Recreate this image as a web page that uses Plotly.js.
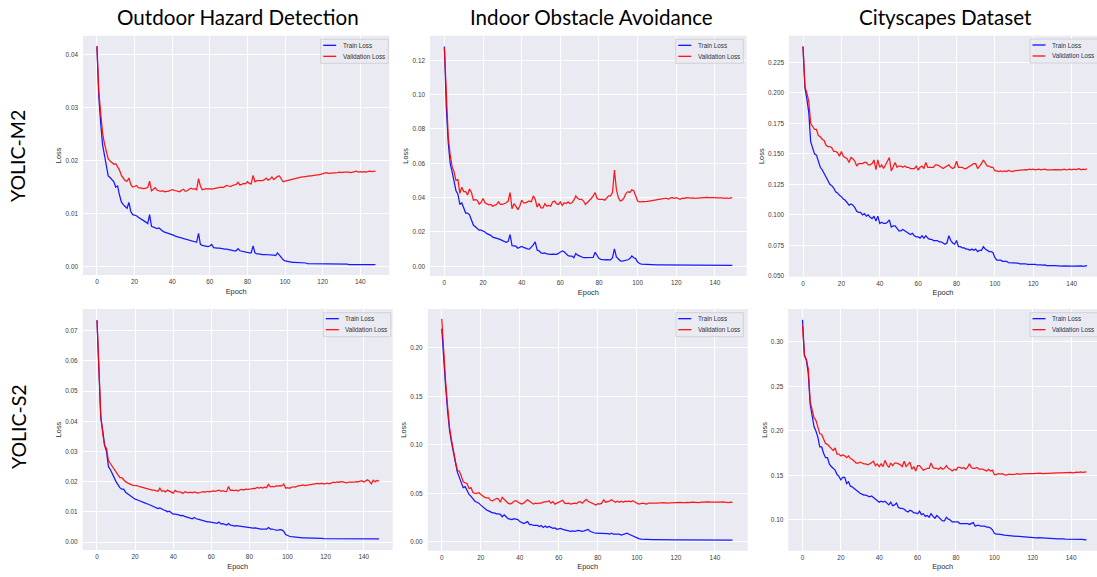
<!DOCTYPE html>
<html>
<head>
<meta charset="utf-8">
<script src="https://cdn.plot.ly/plotly-3.0.1.min.js"></script>
<style>html,body{margin:0;padding:0;background:#fff;}#chart{width:1097px;height:577px;}</style>
</head>
<body>
<div id="chart"></div>
<script>
// ---------------- DATA ----------------
const columnTitles = ["Outdoor Hazard Detection", "Indoor Obstacle Avoidance", "Cityscapes Dataset"];
const rowTitles = ["YOLIC-M2", "YOLIC-S2"];
const seriesNames = ["Train Loss", "Validation Loss"];
const xTicks = [0, 20, 40, 60, 80, 100, 120, 140];

// Outdoor Hazard Detection, YOLIC-M2 (epochs 0..148)
const outdoorM2Train = [
0.0415,0.0320,0.0270,0.0230,0.0210,0.0190,0.0171,0.0168,0.0163,0.0160,
0.0150,0.0152,0.0135,0.0122,0.0117,0.0113,0.0110,0.0121,0.0104,0.0098,
0.0097,0.0096,0.0093,0.0091,0.0089,0.0087,0.0084,0.0081,0.0098,0.0076,
0.0075,0.0074,0.0072,0.0073,0.0069,0.0067,0.0065,0.0064,0.0062,0.0061,
0.0061,0.0059,0.0057,0.0056,0.0055,0.0054,0.0052,0.0051,0.0050,0.0049,
0.0049,0.0048,0.0047,0.0046,0.0063,0.0042,0.0040,0.0039,0.0039,0.0038,
0.0039,0.0042,0.0036,0.0035,0.0035,0.0035,0.0034,0.0034,0.0033,0.0033,
0.0032,0.0032,0.0031,0.0030,0.0030,0.0034,0.0030,0.0029,0.0028,0.0027,
0.0027,0.0026,0.0026,0.0039,0.0026,0.0024,0.0024,0.0023,0.0023,0.0023,
0.0023,0.0023,0.0022,0.0023,0.0022,0.0021,0.0026,0.0022,0.0017,0.0013,
0.0011,0.0010,0.0009,0.0009,0.0008,0.0008,0.0008,0.0007,0.0007,0.0007,
0.0007,0.0007,0.0006,0.0006,0.0006,0.0006,0.0006,0.0006,0.0006,0.0005,
0.0005,0.0005,0.0005,0.0005,0.0005,0.0005,0.0005,0.0005,0.0005,0.0005,
0.0005,0.0005,0.0005,0.0005,0.0004,0.0004,0.0004,0.0004,0.0004,0.0004,
0.0004,0.0004,0.0004,0.0004,0.0004,0.0004,0.0004,0.0004,0.0004];
const outdoorM2Val = [
0.0415,0.0330,0.0290,0.0252,0.0232,0.0215,0.0203,0.0199,0.0195,0.0193,
0.0194,0.0188,0.0182,0.0172,0.0166,0.0162,0.0161,0.0167,0.0155,0.0150,
0.0151,0.0153,0.0149,0.0148,0.0148,0.0147,0.0148,0.0149,0.0161,0.0143,
0.0146,0.0149,0.0144,0.0143,0.0142,0.0143,0.0141,0.0142,0.0142,0.0144,
0.0145,0.0144,0.0143,0.0142,0.0141,0.0144,0.0146,0.0142,0.0143,0.0146,
0.0148,0.0146,0.0147,0.0145,0.0166,0.0152,0.0145,0.0146,0.0147,0.0146,
0.0147,0.0146,0.0147,0.0148,0.0148,0.0149,0.0150,0.0149,0.0151,0.0153,
0.0152,0.0151,0.0153,0.0154,0.0155,0.0159,0.0154,0.0155,0.0157,0.0156,
0.0160,0.0157,0.0156,0.0172,0.0160,0.0162,0.0162,0.0163,0.0162,0.0164,
0.0167,0.0163,0.0165,0.0169,0.0164,0.0167,0.0170,0.0171,0.0166,0.0160,
0.0161,0.0162,0.0163,0.0164,0.0164,0.0166,0.0167,0.0167,0.0168,0.0169,
0.0169,0.0170,0.0170,0.0171,0.0171,0.0172,0.0172,0.0173,0.0173,0.0174,
0.0175,0.0176,0.0177,0.0176,0.0176,0.0177,0.0176,0.0177,0.0177,0.0178,
0.0177,0.0178,0.0178,0.0179,0.0178,0.0177,0.0178,0.0179,0.0180,0.0178,
0.0179,0.0178,0.0179,0.0178,0.0179,0.0180,0.0179,0.0180,0.0180];

// Indoor Obstacle Avoidance, YOLIC-M2 (epochs 0..149)
const indoorM2Train = [
0.128,0.092,0.072,0.060,0.055,0.050,0.044,0.042,0.036,0.037,
0.034,0.031,0.031,0.030,0.027,0.024,0.023,0.022,0.021,0.021,
0.0205,0.020,0.019,0.0185,0.018,0.017,0.0168,0.0165,0.016,0.0155,
0.015,0.0145,0.014,0.0145,0.0185,0.012,0.0118,0.0117,0.0105,0.0108,
0.0115,0.011,0.0105,0.0102,0.010,0.011,0.0125,0.0142,0.0095,0.009,
0.0078,0.0075,0.0078,0.0072,0.0070,0.0070,0.0071,0.0069,0.0070,0.0075,
0.0085,0.009,0.0085,0.007,0.0062,0.006,0.006,0.005,0.0075,0.0065,
0.006,0.0052,0.005,0.005,0.0051,0.005,0.005,0.0052,0.0082,0.006,
0.0045,0.0040,0.0038,0.0037,0.0039,0.0038,0.0037,0.005,0.0102,0.0055,
0.004,0.0032,0.003,0.0032,0.0035,0.0038,0.0045,0.006,0.005,0.0045,
0.0025,0.0016,0.0013,0.0012,0.0011,0.0011,0.0010,0.0010,0.0010,0.0009,
0.0009,0.0009,0.0009,0.0008,0.0008,0.0008,0.0008,0.0008,0.0008,0.0007,
0.0007,0.0007,0.0007,0.0007,0.0007,0.0006,0.0006,0.0006,0.0006,0.0006,
0.0006,0.0006,0.0006,0.0006,0.0006,0.0006,0.0005,0.0005,0.0005,0.0005,
0.0005,0.0005,0.0005,0.0005,0.0005,0.0005,0.0005,0.0005,0.0005,0.0005];
const indoorM2Val = [
0.127,0.095,0.075,0.065,0.058,0.055,0.050,0.0505,0.0425,0.046,
0.0435,0.0435,0.0415,0.045,0.043,0.0385,0.0388,0.0385,0.0362,0.0372,
0.0395,0.037,0.0365,0.0358,0.036,0.035,0.0355,0.036,0.0375,0.036,
0.036,0.0365,0.037,0.038,0.043,0.0335,0.0365,0.035,0.033,0.035,
0.0385,0.037,0.037,0.0375,0.038,0.0375,0.041,0.039,0.0345,0.0365,
0.034,0.034,0.0365,0.035,0.0355,0.035,0.0375,0.038,0.0365,0.036,
0.0375,0.0355,0.037,0.0365,0.0375,0.0365,0.037,0.0385,0.041,0.0395,
0.039,0.039,0.038,0.036,0.037,0.038,0.0395,0.041,0.043,0.0395,
0.039,0.039,0.039,0.0385,0.040,0.041,0.041,0.043,0.056,0.045,
0.040,0.038,0.0385,0.040,0.0425,0.0435,0.043,0.0445,0.044,0.041,
0.038,0.0375,0.0375,0.0378,0.0376,0.0378,0.038,0.0382,0.0385,0.0385,
0.039,0.0388,0.039,0.0393,0.0395,0.0395,0.0392,0.0398,0.040,0.0396,
0.040,0.0395,0.039,0.0397,0.0395,0.040,0.0398,0.0395,0.0397,0.0398,
0.0395,0.0397,0.0398,0.040,0.0402,0.0405,0.0402,0.040,0.0401,0.0400,
0.0400,0.0398,0.0399,0.0397,0.0398,0.0396,0.0398,0.0395,0.0398,0.0400];

// Cityscapes Dataset, YOLIC-M2 (epochs 0..148)
const cityM2Train = [
0.238,0.204,0.195,0.184,0.160,0.155,0.150,0.149,0.143,0.139,
0.137,0.134,0.130,0.127,0.125,0.124,0.122,0.119,0.118,0.116,
0.115,0.113,0.112,0.110,0.108,0.109,0.108,0.106,0.103,0.102,
0.102,0.100,0.101,0.099,0.100,0.098,0.097,0.099,0.095,0.099,
0.093,0.094,0.093,0.093,0.094,0.096,0.090,0.091,0.091,0.089,
0.087,0.087,0.088,0.087,0.086,0.085,0.084,0.085,0.083,0.082,
0.082,0.081,0.083,0.081,0.083,0.081,0.080,0.080,0.079,0.079,
0.079,0.078,0.078,0.077,0.076,0.077,0.083,0.079,0.077,0.076,
0.079,0.074,0.074,0.073,0.073,0.072,0.072,0.071,0.072,0.071,
0.072,0.070,0.071,0.071,0.074,0.072,0.071,0.070,0.070,0.069,
0.065,0.063,0.063,0.063,0.062,0.062,0.062,0.061,0.061,0.061,
0.0605,0.061,0.0605,0.060,0.060,0.0605,0.060,0.0595,0.0595,0.0598,
0.0595,0.0595,0.059,0.0592,0.059,0.0588,0.059,0.0585,0.0587,0.0588,
0.0585,0.0585,0.0583,0.0585,0.0582,0.058,0.0582,0.058,0.058,0.0582,
0.058,0.058,0.0582,0.0578,0.058,0.0582,0.0578,0.058,0.0585];
const cityM2Val = [
0.238,0.205,0.200,0.193,0.175,0.172,0.170,0.170,0.165,0.164,
0.162,0.161,0.157,0.156,0.156,0.155,0.152,0.152,0.151,0.148,
0.152,0.148,0.147,0.146,0.143,0.147,0.146,0.144,0.140,0.142,
0.142,0.142,0.143,0.143,0.141,0.141,0.142,0.145,0.137,0.145,
0.139,0.141,0.138,0.141,0.144,0.147,0.136,0.140,0.143,0.139,
0.140,0.140,0.139,0.140,0.139,0.139,0.138,0.138,0.138,0.140,
0.137,0.139,0.140,0.138,0.143,0.139,0.139,0.139,0.139,0.141,
0.141,0.140,0.139,0.138,0.139,0.140,0.141,0.139,0.138,0.139,
0.144,0.139,0.139,0.139,0.138,0.138,0.139,0.140,0.141,0.142,
0.142,0.138,0.140,0.142,0.145,0.142,0.140,0.140,0.139,0.139,
0.136,0.136,0.1355,0.136,0.1355,0.136,0.1355,0.1365,0.136,0.1355,
0.136,0.1362,0.1365,0.137,0.1368,0.137,0.1372,0.137,0.1375,0.1372,
0.1375,0.137,0.1372,0.1375,0.137,0.1372,0.1375,0.137,0.1368,0.137,
0.137,0.1372,0.137,0.1368,0.1372,0.137,0.1375,0.137,0.1372,0.1375,
0.137,0.1375,0.1372,0.1375,0.1378,0.137,0.1375,0.1372,0.1378];

// Outdoor Hazard Detection, YOLIC-S2 (epochs 0..148)
const outdoorS2Train = [
0.0735,0.0580,0.0410,0.0370,0.0320,0.0300,0.0250,0.0240,0.0225,0.0210,
0.0200,0.0190,0.0180,0.0175,0.0175,0.0165,0.0160,0.0155,0.0150,0.0148,
0.0142,0.0140,0.0137,0.0135,0.0133,0.0130,0.0127,0.0125,0.0122,0.0120,
0.0117,0.0114,0.0111,0.0113,0.0108,0.0106,0.0104,0.0100,0.0102,0.0098,
0.0092,0.0092,0.0092,0.0090,0.0087,0.0088,0.0085,0.0083,0.0081,0.0078,
0.0077,0.0081,0.0077,0.0076,0.0074,0.0073,0.0071,0.0070,0.0067,0.0067,
0.0066,0.0065,0.0063,0.0062,0.0066,0.0060,0.0061,0.0058,0.0056,0.0061,
0.0056,0.0055,0.0053,0.0054,0.0053,0.0054,0.0051,0.0051,0.0050,0.0048,
0.0049,0.0047,0.0046,0.0047,0.0045,0.0044,0.0043,0.0043,0.0042,0.0043,
0.0048,0.0043,0.0043,0.0040,0.0039,0.0039,0.0041,0.0040,0.0036,0.0025,
0.0021,0.0019,0.0018,0.0017,0.0016,0.0016,0.0015,0.0015,0.0014,0.0014,
0.0014,0.0013,0.0013,0.0013,0.0012,0.0012,0.0012,0.0012,0.0012,0.0011,
0.0011,0.0011,0.0011,0.0011,0.0011,0.0011,0.0011,0.0011,0.0011,0.0011,
0.0011,0.0010,0.0011,0.0010,0.0010,0.0010,0.0010,0.0010,0.0010,0.0010,
0.0010,0.0010,0.0010,0.0010,0.0010,0.0010,0.0010,0.0010,0.0010];
const outdoorS2Val = [
0.0735,0.0550,0.0420,0.0360,0.0320,0.0310,0.0270,0.0260,0.0250,0.0240,
0.0232,0.0223,0.0213,0.0213,0.0205,0.0200,0.0196,0.0192,0.0190,0.0188,
0.0188,0.0187,0.0184,0.0182,0.0180,0.0178,0.0177,0.0176,0.0174,0.0172,
0.0172,0.0170,0.0168,0.0178,0.0168,0.0170,0.0166,0.0172,0.0168,0.0164,
0.0162,0.0171,0.0167,0.0166,0.0165,0.0161,0.0166,0.0165,0.0163,0.0165,
0.0163,0.0166,0.0164,0.0162,0.0164,0.0166,0.0167,0.0165,0.0168,0.0166,
0.0168,0.0169,0.0168,0.0171,0.0172,0.0168,0.0170,0.0168,0.0167,0.0184,
0.0171,0.0172,0.0170,0.0172,0.0169,0.0173,0.0174,0.0172,0.0175,0.0174,
0.0174,0.0176,0.0178,0.0177,0.0181,0.0179,0.0181,0.0179,0.0182,0.0180,
0.0191,0.0183,0.0184,0.0183,0.0186,0.0185,0.0187,0.0186,0.0192,0.0178,
0.0180,0.0178,0.0181,0.0183,0.0182,0.0185,0.0187,0.0187,0.0189,0.0187,
0.0188,0.0190,0.0189,0.0190,0.0192,0.0193,0.0194,0.0193,0.0195,0.0192,
0.0194,0.0195,0.0193,0.0196,0.0198,0.0197,0.0199,0.0198,0.0200,0.0199,
0.0198,0.0196,0.0198,0.0197,0.0198,0.0198,0.0200,0.0199,0.0201,0.0203,
0.0199,0.0204,0.0206,0.0201,0.0193,0.0205,0.0200,0.0204,0.0202];

// Indoor Obstacle Avoidance, YOLIC-S2 (epochs 0..149)
const indoorS2Train = [
0.220,0.185,0.160,0.135,0.115,0.103,0.090,0.082,0.072,0.066,
0.062,0.056,0.057,0.053,0.049,0.047,0.044,0.042,0.041,0.040,
0.038,0.036,0.034,0.033,0.032,0.031,0.030,0.030,0.029,0.029,
0.0285,0.026,0.028,0.026,0.024,0.0235,0.023,0.024,0.0235,0.023,
0.021,0.020,0.019,0.020,0.021,0.018,0.018,0.017,0.017,0.017,
0.016,0.017,0.015,0.0165,0.015,0.016,0.015,0.014,0.0145,0.013,
0.0135,0.014,0.013,0.0125,0.012,0.0115,0.011,0.0115,0.011,0.0115,
0.012,0.0115,0.011,0.0115,0.012,0.013,0.011,0.010,0.0095,0.009,
0.009,0.0085,0.009,0.009,0.0085,0.0085,0.008,0.009,0.008,0.008,
0.0075,0.008,0.007,0.0075,0.0085,0.009,0.008,0.007,0.006,0.005,
0.0045,0.0035,0.0030,0.0028,0.0027,0.0026,0.0026,0.0025,0.0025,0.0025,
0.0024,0.0024,0.0024,0.0023,0.0023,0.0023,0.0023,0.0022,0.0022,0.0022,
0.0022,0.0022,0.0022,0.0021,0.0022,0.0021,0.0021,0.0021,0.0021,0.0021,
0.0021,0.0021,0.0020,0.0021,0.0020,0.0020,0.0020,0.0020,0.0020,0.0020,
0.0020,0.0020,0.0020,0.0020,0.0020,0.0020,0.0020,0.0020,0.0020,0.0020];
const indoorS2Val = [
0.230,0.195,0.165,0.140,0.118,0.105,0.092,0.083,0.074,0.073,
0.068,0.062,0.061,0.060,0.055,0.056,0.051,0.050,0.050,0.051,
0.049,0.047,0.046,0.0455,0.0455,0.043,0.0425,0.0435,0.045,0.0445,
0.041,0.046,0.0435,0.042,0.040,0.039,0.040,0.042,0.0425,0.041,
0.040,0.039,0.040,0.042,0.0435,0.042,0.0405,0.039,0.040,0.0395,
0.040,0.040,0.041,0.041,0.0415,0.0425,0.040,0.0415,0.039,0.040,
0.041,0.042,0.043,0.040,0.0395,0.040,0.039,0.0395,0.040,0.0395,
0.041,0.0415,0.040,0.042,0.044,0.042,0.041,0.040,0.0395,0.038,
0.0395,0.039,0.040,0.0435,0.041,0.0415,0.042,0.0435,0.042,0.041,
0.042,0.041,0.042,0.041,0.042,0.0415,0.042,0.0415,0.0425,0.041,
0.040,0.039,0.0395,0.040,0.0395,0.039,0.040,0.0398,0.0395,0.040,
0.040,0.0402,0.0398,0.040,0.0405,0.040,0.0402,0.0405,0.0403,0.0405,
0.0405,0.041,0.0408,0.0405,0.0402,0.0405,0.0408,0.0405,0.041,0.0407,
0.041,0.0408,0.0405,0.041,0.0412,0.0408,0.041,0.0413,0.041,0.0408,
0.041,0.0412,0.0408,0.041,0.0413,0.041,0.0408,0.0405,0.041,0.0408];

// Cityscapes Dataset, YOLIC-S2 (epochs 0..148)
const cityS2Train = [
0.325,0.285,0.280,0.265,0.230,0.218,0.205,0.200,0.193,0.182,
0.182,0.175,0.170,0.170,0.163,0.160,0.158,0.156,0.151,0.149,
0.145,0.148,0.148,0.141,0.143,0.138,0.137,0.135,0.133,0.132,
0.130,0.129,0.128,0.128,0.127,0.126,0.127,0.125,0.123,0.121,
0.120,0.121,0.120,0.121,0.119,0.117,0.120,0.116,0.117,0.119,
0.114,0.113,0.113,0.112,0.110,0.109,0.111,0.110,0.108,0.108,
0.107,0.110,0.106,0.107,0.104,0.105,0.103,0.107,0.104,0.102,
0.105,0.103,0.101,0.099,0.099,0.103,0.101,0.100,0.098,0.098,
0.098,0.098,0.096,0.096,0.096,0.096,0.096,0.095,0.096,0.097,
0.093,0.094,0.094,0.093,0.093,0.093,0.092,0.092,0.091,0.089,
0.085,0.084,0.084,0.084,0.0835,0.083,0.083,0.0828,0.0825,0.0822,
0.082,0.0818,0.0815,0.0815,0.0812,0.081,0.081,0.0808,0.0805,0.0805,
0.0805,0.0803,0.080,0.0802,0.080,0.0798,0.0795,0.0795,0.0792,0.079,
0.079,0.0792,0.079,0.0788,0.0788,0.079,0.0787,0.0785,0.0785,0.0787,
0.0785,0.0783,0.0785,0.078,0.0782,0.078,0.0783,0.0778,0.078];
const cityS2Val = [
0.318,0.285,0.280,0.270,0.233,0.225,0.215,0.212,0.205,0.197,
0.196,0.190,0.186,0.185,0.183,0.181,0.178,0.181,0.174,0.174,
0.172,0.173,0.172,0.170,0.172,0.169,0.168,0.166,0.164,0.164,
0.165,0.164,0.163,0.163,0.162,0.163,0.165,0.166,0.161,0.163,
0.160,0.163,0.160,0.167,0.162,0.159,0.164,0.161,0.164,0.164,
0.163,0.162,0.160,0.166,0.160,0.163,0.165,0.157,0.160,0.155,
0.161,0.161,0.158,0.156,0.157,0.158,0.158,0.164,0.159,0.158,
0.158,0.157,0.159,0.157,0.158,0.161,0.158,0.157,0.155,0.157,
0.156,0.159,0.159,0.158,0.159,0.157,0.159,0.163,0.159,0.158,
0.158,0.159,0.157,0.157,0.157,0.156,0.155,0.157,0.155,0.156,
0.151,0.151,0.152,0.1515,0.152,0.151,0.1505,0.151,0.1515,0.151,
0.151,0.1515,0.152,0.1512,0.1518,0.152,0.1515,0.152,0.1522,0.152,
0.152,0.1522,0.1518,0.152,0.1525,0.152,0.1522,0.1525,0.1528,0.153,
0.1528,0.153,0.1532,0.153,0.1528,0.153,0.1532,0.1535,0.153,0.1532,
0.1535,0.153,0.1535,0.1538,0.1535,0.154,0.1535,0.1538,0.154];

const yTicksOutdoorM2 = [0.00, 0.01, 0.02, 0.03, 0.04];
const yTicksIndoorM2 = [0.00, 0.02, 0.04, 0.06, 0.08, 0.10, 0.12];
const yTicksCityM2 = [0.050, 0.075, 0.100, 0.125, 0.150, 0.175, 0.200, 0.225];
const yTicksOutdoorS2 = [0.00, 0.01, 0.02, 0.03, 0.04, 0.05, 0.06, 0.07];
const yTicksIndoorS2 = [0.00, 0.05, 0.10, 0.15, 0.20];
const yTicksCityS2 = [0.10, 0.15, 0.20, 0.25, 0.30];

// ---------------- LAYOUT ----------------
const W = 1097, H = 577;
const fx = p => p / W;
const fy = p => 1 - p / H;
const FONT = "'Liberation Sans', Arial, sans-serif";
const TITLEFONT = "Lato, 'Open Sans', sans-serif";
const seriesColors = ["#0000ff", "#ff0000"];

const panels = [
  {train: outdoorM2Train, val: outdoorM2Val, rect: [83, 389.3, 35.7, 275], xr: [-7.4, 155.4], yr: [-0.00156, 0.0435], yt: yTicksOutdoorM2, fmt: ".2f", leg: [320.7, 39.3]},
  {train: indoorM2Train, val: indoorM2Val, rect: [430, 746.7, 35.7, 276], xr: [-7.45, 156.45], yr: [-0.00565, 0.1343], yt: yTicksIndoorM2, fmt: ".2f", leg: [675.8, 39.3]},
  {train: cityM2Train, val: cityM2Val, rect: [789, 1097, 35.7, 276.7], xr: [-7.3, 153.2], yr: [0.0494, 0.2468], yt: yTicksCityM2, fmt: ".3f", leg: [1030, 39.0]},
  {train: outdoorS2Train, val: outdoorS2Val, rect: [82.7, 392.7, 309, 550], xr: [-7.5, 155.2], yr: [-0.00265, 0.0772], yt: yTicksOutdoorS2, fmt: ".2f", leg: [323.3, 312.7]},
  {train: indoorS2Train, val: indoorS2Val, rect: [427.7, 747.7, 309, 550.7], xr: [-7.2, 156.8], yr: [-0.009, 0.2402], yt: yTicksIndoorS2, fmt: ".2f", leg: [675.8, 312.7]},
  {train: cityS2Train, val: cityS2Val, rect: [788.3, 1097, 309, 550.7], xr: [-7.4, 153.5], yr: [0.0655, 0.337], yt: yTicksCityS2, fmt: ".2f", leg: [1030, 312.7]}
];

const traces = [];
const layout = {
  width: W, height: H,
  margin: {l: 0, r: 0, t: 0, b: 0},
  paper_bgcolor: "#ffffff",
  plot_bgcolor: "#eaeaf2",
  showlegend: false,
  shapes: [],
  annotations: []
};

panels.forEach((p, i) => {
  const s = i === 0 ? "" : String(i + 1);
  [p.train, p.val].forEach((ys, k) => {
    traces.push({
      x: ys.map((_, e) => e), y: ys,
      xaxis: "x" + s, yaxis: "y" + s,
      type: "scatter", mode: "lines",
      name: seriesNames[k],
      line: {color: seriesColors[k], width: 1.25},
      opacity: 0.9,
      hoverinfo: "skip"
    });
  });
  const [l, r, t, b] = p.rect;
  layout["xaxis" + s] = {
    domain: [fx(l), fx(r)], range: p.xr, anchor: "y" + s,
    tickmode: "array", tickvals: xTicks,
    showgrid: true, gridcolor: "#ffffff", gridwidth: 1,
    zeroline: false, showline: false, ticks: "", automargin: false,
    tickfont: {family: FONT, size: 6.4, color: "#3a3a3a"},
    ticklabelstandoff: 2,
    title: {text: "Epoch", font: {family: FONT, size: 7.4, color: "#2a2a2a"}, standoff: 3.5}
  };
  layout["yaxis" + s] = {
    domain: [fy(b), fy(t)], range: p.yr, anchor: "x" + s,
    tickmode: "array", tickvals: p.yt, tickformat: p.fmt,
    showgrid: true, gridcolor: "#ffffff", gridwidth: 1,
    zeroline: false, showline: false, ticks: "", automargin: false,
    tickfont: {family: FONT, size: 6.4, color: "#3a3a3a"},
    ticklabelstandoff: 4,
    title: {text: "Loss", font: {family: FONT, size: 7.4, color: "#2a2a2a"}, standoff: 2}
  };
  // legend box per panel
  const [lx, ly] = p.leg;
  layout.shapes.push({type: "rect", xref: "paper", yref: "paper",
    x0: fx(lx), x1: fx(lx + 67.5), y0: fy(ly + 24), y1: fy(ly),
    fillcolor: "rgba(234,234,242,0.8)", line: {color: "rgba(200,200,200,0.9)", width: 0.8}, layer: "above"});
  [0, 1].forEach(k => {
    const yy = ly + 6 + k * 11;
    layout.shapes.push({type: "line", xref: "paper", yref: "paper",
      x0: fx(lx + 2.5), x1: fx(lx + 15.5), y0: fy(yy), y1: fy(yy),
      line: {color: seriesColors[k], width: 1.2}, layer: "above"});
    layout.annotations.push({xref: "paper", yref: "paper", x: fx(lx + 20), y: fy(yy),
      xanchor: "left", yanchor: "middle", showarrow: false, text: seriesNames[k],
      font: {family: FONT, size: 6.3, color: "#333333"}});
  });
});

// column titles
const colCenters = [237.7, 591.8, 945.5];
columnTitles.forEach((txt, j) => {
  layout.annotations.push({xref: "paper", yref: "paper", x: fx(colCenters[j]), y: fy(17),
    xanchor: "center", yanchor: "middle", showarrow: false, text: txt,
    font: {family: TITLEFONT, size: 20.6, color: "#000000"}});
});
// row titles
const rowCenters = [156, 427];
rowTitles.forEach((txt, j) => {
  layout.annotations.push({xref: "paper", yref: "paper", x: fx(18), y: fy(rowCenters[j]),
    xanchor: "center", yanchor: "middle", showarrow: false, text: txt, textangle: -90,
    font: {family: TITLEFONT, size: 19.5, color: "#000000"}});
});

Plotly.newPlot("chart", traces, layout, {staticPlot: true, displayModeBar: false});
</script>
</body>
</html>
